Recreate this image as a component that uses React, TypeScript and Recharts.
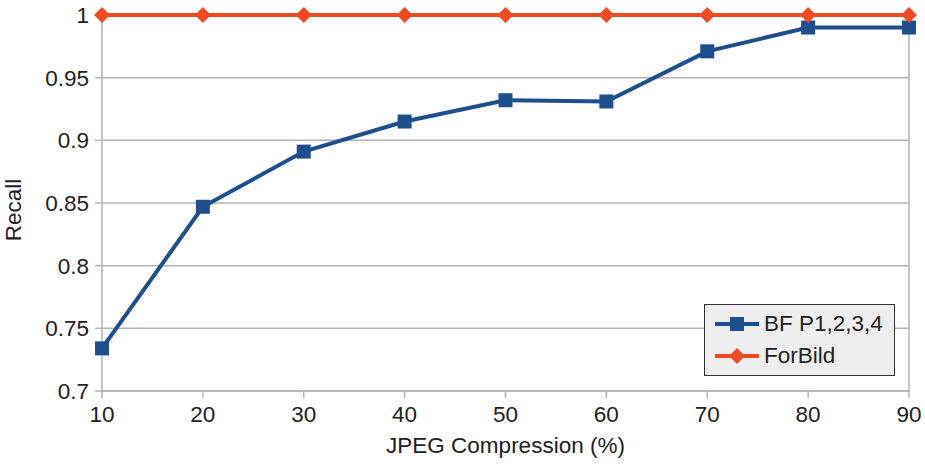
import React from "react";
import { LineChart, Line, XAxis, YAxis, CartesianGrid, Legend, ReferenceLine } from "recharts";

const compression = [10, 20, 30, 40, 50, 60, 70, 80, 90];
const bfRecall = [0.734, 0.847, 0.891, 0.915, 0.932, 0.931, 0.971, 0.99, 0.99];
const forBildRecall = [1, 1, 1, 1, 1, 1, 1, 1, 1];
const xTicks = [10, 20, 30, 40, 50, 60, 70, 80, 90];
const yTicks = [0.7, 0.75, 0.8, 0.85, 0.9, 0.95, 1];

const BLUE = "#1f4e8c";
const ORANGE = "#f04a24";
const GRID = "#b3b3b3";
const FONT = "'Liberation Sans', Arial, sans-serif";
const FS = 22.5;

const data = compression.map((c, i) => ({ c, bf: bfRecall[i], fb: forBildRecall[i] }));

const SquareDot = (props: any) => {
  const { cx, cy, index } = props;
  if (cx == null || cy == null) return null;
  return <rect key={`s${index}`} x={cx - 7} y={cy - 7} width={14} height={14} fill={BLUE} />;
};

const DiamondDot = (props: any) => {
  const { cx, cy, index } = props;
  if (cx == null || cy == null) return null;
  const r = 8;
  return (
    <polygon
      key={`d${index}`}
      points={`${cx},${cy - r} ${cx + r},${cy} ${cx},${cy + r} ${cx - r},${cy}`}
      fill={ORANGE}
    />
  );
};

const LegendContent = (props: any) => {
  const items = props.payload || [];
  return (
    <div
      style={{
        width: 189,
        height: 70,
        border: "1px solid #333",
        background: "#eeeeee",
        boxSizing: "content-box",
        fontFamily: FONT,
        fontSize: FS,
        color: "#222",
        lineHeight: "normal",
      }}
    >
      {items.map((it: any, i: number) => (
        <div key={i} style={{ display: "flex", alignItems: "center", height: 32, marginTop: i === 0 ? 3 : 0 }}>
          <svg width={58} height={20}>
            <line x1={10} y1={10} x2={54} y2={10} stroke={it.color} strokeWidth={4} />
            {i === 0 ? (
              <rect x={25} y={3} width={14} height={14} fill={it.color} />
            ) : (
              <polygon points="32,2 40,10 32,18 24,10" fill={it.color} />
            )}
          </svg>
          <span style={{ marginLeft: 1, whiteSpace: "nowrap" }}>{it.value}</span>
        </div>
      ))}
    </div>
  );
};

const YLabel = (props: any) => {
  const vb = props.viewBox || {};
  const x = 21;
  const y = (vb.y || 0) + (vb.height || 0) / 2 + 7;
  return (
    <text
      x={x}
      y={y}
      transform={`rotate(-90, ${x}, ${y})`}
      textAnchor="middle"
      fill="#222"
      fontSize={FS}
      fontFamily={FONT}
    >
      Recall
    </text>
  );
};

export default function App() {
  return (
    <div style={{ position: "absolute", left: 0, top: 0, background: "#fff" }}>
      <LineChart width={925} height={464} data={data} margin={{ top: 15, right: 16, bottom: 0, left: 0 }}>
        <CartesianGrid horizontal={true} vertical={false} stroke={GRID} strokeWidth={1.5} />
        <XAxis
          dataKey="c"
          type="number"
          domain={[10, 90]}
          ticks={xTicks}
          height={73}
          stroke={GRID}
          strokeWidth={1.5}
          tickSize={7}
          tickMargin={8}
          tick={{ fill: "#222", fontSize: FS, fontFamily: FONT }}
          label={{ value: "JPEG Compression (%)", position: "insideBottom", offset: 11, fill: "#222", fontSize: FS, fontFamily: FONT }}
        />
        <YAxis
          type="number"
          domain={[0.7, 1]}
          ticks={yTicks}
          width={102}
          stroke={GRID}
          strokeWidth={1.5}
          tickSize={7}
          tickMargin={6}
          tick={{ fill: "#222", fontSize: FS, fontFamily: FONT }}
          label={<YLabel />}
        />
        <ReferenceLine x={90} stroke={GRID} strokeWidth={1.5} />
        <Legend
          layout="vertical"
          align="center"
          verticalAlign="middle"
          content={<LegendContent />}
          wrapperStyle={{ position: "absolute", left: 704, top: 304, width: 191, height: 72, margin: 0 }}
        />
        <Line
          name="BF P1,2,3,4"
          dataKey="bf"
          stroke={BLUE}
          strokeWidth={4}
          dot={<SquareDot />}
          activeDot={false}
          isAnimationActive={false}
        />
        <Line
          name="ForBild"
          dataKey="fb"
          stroke={ORANGE}
          strokeWidth={4}
          dot={<DiamondDot />}
          activeDot={false}
          isAnimationActive={false}
        />
      </LineChart>
    </div>
  );
}
